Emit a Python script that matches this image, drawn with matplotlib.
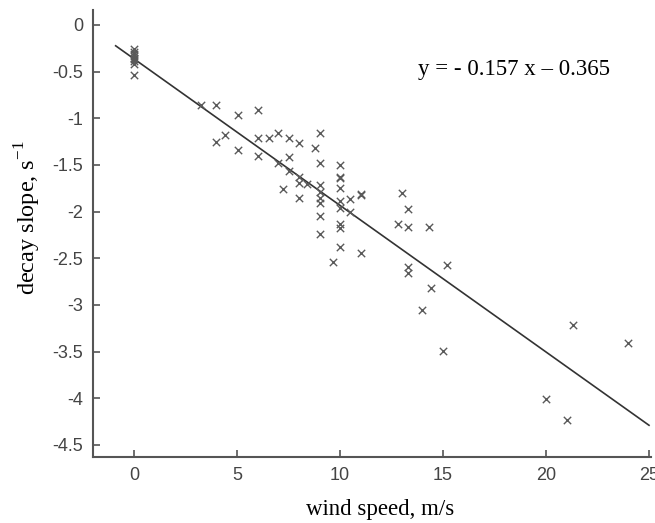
import matplotlib
matplotlib.use('Agg')
import matplotlib.pyplot as plt
import numpy as np

plt.rcParams['mathtext.fontset'] = 'custom'
plt.rcParams['mathtext.rm'] = 'Liberation Serif'

# wind speed (m/s) and decay slope (1/s)
wind_speed = [0, 0, 0, 0, 0, 0, 0, 0, 0,
              3.25, 3.96, 3.96, 4.42, 5.02, 5.02, 6.0, 6.0, 6.0, 6.55,
              7.0, 7.0, 7.25, 7.5, 7.5, 7.5, 8.0, 8.0, 8.0, 8.0, 8.4,
              8.8, 9.0, 9.0, 9.0, 9.0, 9.0, 9.0, 9.0, 9.0, 9.63,
              10, 10, 10, 10, 10, 10, 10, 10, 10, 10.5, 10.5, 11, 11, 11,
              12.8, 13.0, 13.3, 13.3, 14.3, 13.3, 13.3, 15.2, 14.4, 14.0, 15.0,
              21.3, 24.0, 20.0, 21.0]
decay_slope = [-0.26, -0.29, -0.31, -0.33, -0.35, -0.37, -0.39, -0.42, -0.54,
               -0.86, -0.86, -1.25, -1.18, -0.965, -1.34, -0.91, -1.215, -1.40, -1.215,
               -1.16, -1.475, -1.76, -1.215, -1.42, -1.57, -1.26, -1.625, -1.69, -1.85, -1.71,
               -1.32, -1.16, -1.475, -1.715, -1.79, -1.86, -1.91, -2.05, -2.24, -2.54,
               -1.50, -1.63, -1.64, -1.75, -1.89, -1.965, -2.13, -2.18, -2.375, -1.87, -2.0, -1.815, -1.825, -2.44,
               -2.13, -1.80, -1.975, -2.17, -2.17, -2.59, -2.66, -2.57, -2.82, -3.05, -3.49,
               -3.215, -3.41, -4.01, -4.23]

slope = -0.157
intercept = -0.365
fit_range = [-0.9, 25]

x_ticks = [0, 5, 10, 15, 20, 25]
y_ticks = [0, -0.5, -1, -1.5, -2, -2.5, -3, -3.5, -4, -4.5]
y_tick_labels = ['0', '-0.5', '-1', '-1.5', '-2', '-2.5', '-3', '-3.5', '-4', '-4.5']

fig = plt.figure(figsize=(6.55, 5.23), dpi=100)
ax = fig.add_axes([0.142, 0.1262, 0.852, 0.8547])

ax.scatter(wind_speed, decay_slope, marker='x', s=28, color='#5a5a5a', linewidths=1.0, zorder=3)
xf = np.array(fit_range)
ax.plot(xf, slope * xf + intercept, color='#333333', linewidth=1.2, zorder=2)

ax.set_xlim(-2, 25.1)
ax.set_ylim(-4.63, 0.16)
ax.set_xticks(x_ticks)
ax.set_yticks(y_ticks)
ax.set_yticklabels(y_tick_labels)

for side in ['top', 'right']:
    ax.spines[side].set_visible(False)
for side in ['left', 'bottom']:
    ax.spines[side].set_color('#555555')
    ax.spines[side].set_linewidth(1.5)

ax.tick_params(direction='in', length=5, width=1.2, color='#555555',
               labelsize=13, labelcolor='#444444', pad=7)
for lab in ax.get_xticklabels() + ax.get_yticklabels():
    lab.set_family('Liberation Sans')

fig.text(380 / 655, 1 - 510 / 523, 'wind speed, m/s', family='Liberation Serif',
         fontsize=16.5, ha='center', va='center')
fig.text(28 / 655, 1 - 218 / 523, r'decay slope, s$^{\mathrm{-1}}$', family='Liberation Serif',
         fontsize=17.5, ha='center', va='center', rotation=90)

fig.text(418 / 655, 1 - 70 / 523, 'y = - 0.157 x \u2013 0.365', family='Liberation Serif',
         fontsize=16.5, va='center', ha='left')

fig.savefig('out.png', dpi=100)
